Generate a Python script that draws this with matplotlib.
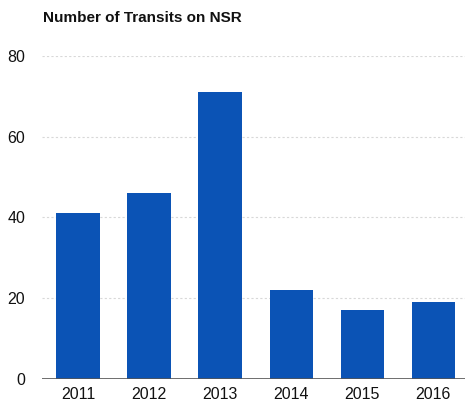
import matplotlib
matplotlib.use("Agg")
import matplotlib.pyplot as plt

years = ["2011", "2012", "2013", "2014", "2015", "2016"]
transits = [41, 46, 71, 22, 17, 19]
yticks = [0, 20, 40, 60, 80]

plt.rcParams["font.family"] = ["Liberation Sans", "DejaVu Sans"]

fig = plt.figure(figsize=(4.7, 4.08), dpi=100)
ax = fig.add_axes([0.089, 0.071, 0.901, 0.792])

x = range(len(years))
ax.bar(x, transits, width=0.61, color="#0b53b5", zorder=2)

ax.set_xlim(-0.51, 5.45)
ax.set_ylim(0, 80)
ax.set_yticks(yticks)
ax.set_xticks(list(x))
ax.set_xticklabels(years)
ax.yaxis.grid(True, color="#d8d8d8", linestyle=(0, (2, 2)), linewidth=0.8, zorder=0)
ax.axhline(0, color="#555555", linewidth=1.2, zorder=3)

for s in ax.spines.values():
    s.set_visible(False)
ax.tick_params(axis="both", length=0, labelsize=11.5, colors="#111111")
ax.tick_params(axis="y", pad=12)
ax.tick_params(axis="x", pad=6)

fig.text(0.092, 0.955, "Number of Transits on NSR", fontsize=11,
         fontweight="bold", color="#111111", ha="left", va="center")

fig.savefig("out.png", dpi=100, facecolor="white")
